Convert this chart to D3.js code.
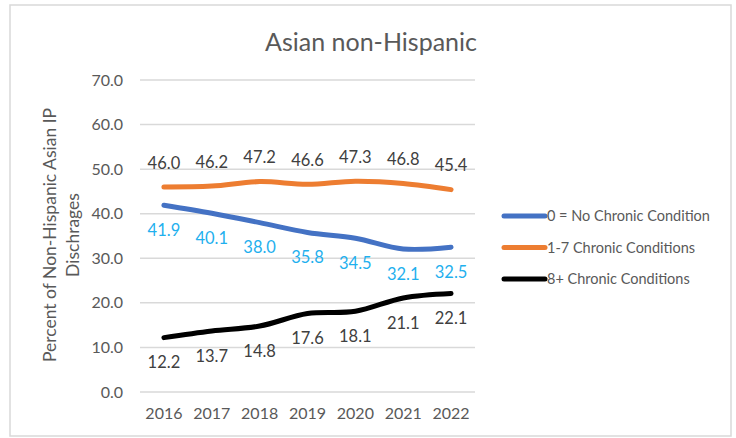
<!DOCTYPE html>
<html>
<head>
<meta charset="utf-8">
<script src="https://cdn.jsdelivr.net/npm/d3@7"></script>
<style>
  html, body { margin: 0; padding: 0; background: #fff; }
  svg { display: block; }
  text { font-family: Lato, "Noto Sans", sans-serif; fill: #595959; }
</style>
</head>
<body>
<svg id="chart" width="736" height="438"></svg>
<script>
// Share of discharges by number of chronic conditions, 2016–2022
const years = ["2016", "2017", "2018", "2019", "2020", "2021", "2022"];
const noChronic = [41.9, 40.1, 38.0, 35.8, 34.5, 32.1, 32.5];
const oneToSeven = [46.0, 46.2, 47.2, 46.6, 47.3, 46.8, 45.4];
const eightPlus = [12.2, 13.7, 14.8, 17.6, 18.1, 21.1, 22.1];
const yTicks = [0, 10, 20, 30, 40, 50, 60, 70];

const series = [
  { name: "0 = No Chronic Condition", values: noChronic, color: "#4472c4", labelColor: "#1fb0ee", labelDy: 25 },
  { name: "1-7 Chronic Conditions", values: oneToSeven, color: "#ed7d31", labelColor: "#404040", labelDy: -24 },
  { name: "8+ Chronic Conditions", values: eightPlus, color: "#000000", labelColor: "#404040", labelDy: 25 }
];

const svg = d3.select("#chart");

// outer chart frame
svg.append("rect")
  .attr("x", 10).attr("y", 5).attr("width", 721).attr("height", 431)
  .attr("fill", "#fff").attr("stroke", "#d9d9d9").attr("stroke-width", 1.5);

const plot = { left: 140, right: 475, top: 80, bottom: 392 };

const x = d3.scaleBand().domain(years).range([plot.left, plot.right]);
const y = d3.scaleLinear().domain([0, 70]).range([plot.bottom, plot.top]);

// horizontal gridlines
svg.append("g")
  .selectAll("line")
  .data(yTicks)
  .join("line")
  .attr("x1", plot.left).attr("x2", plot.right)
  .attr("y1", d => y(d)).attr("y2", d => y(d))
  .attr("stroke", "#d9d9d9").attr("stroke-width", 1.5);

// y axis tick labels
const yAxis = d3.axisLeft(y).tickValues(yTicks).tickFormat(d3.format(".1f")).tickSize(0).tickPadding(17);
const gy = svg.append("g").attr("transform", `translate(${plot.left},0)`).call(yAxis);
gy.select(".domain").remove();
gy.selectAll("text").attr("font-size", 16).attr("fill", "#595959")
  .style("font-family", "Lato, 'Noto Sans', sans-serif");

// x axis category labels
const xAxis = d3.axisBottom(x).tickSize(0).tickPadding(16);
const gx = svg.append("g").attr("transform", `translate(0,${plot.bottom})`).call(xAxis);
gx.select(".domain").remove();
gx.selectAll("text").attr("font-size", 16).attr("fill", "#595959")
  .style("font-family", "Lato, 'Noto Sans', sans-serif");

// title
svg.append("text")
  .attr("x", 371).attr("y", 51)
  .attr("text-anchor", "middle")
  .attr("font-size", 25)
  .text("Asian non-Hispanic");

// y axis title (two lines)
const yTitle = svg.append("text")
  .attr("transform", "translate(56,235) rotate(-90)")
  .attr("text-anchor", "middle")
  .attr("font-size", 17.5);
yTitle.append("tspan").attr("x", 0).attr("dy", 0).text("Percent of Non-Hispanic Asian IP");
yTitle.append("tspan").attr("x", 0).attr("dy", 23).text("Dischrages");

const cx = d => x(d) + x.bandwidth() / 2;
const line = d3.line()
  .x((v, i) => cx(years[i]))
  .y(v => y(v))
  .curve(d3.curveCatmullRom.alpha(0.5));

// series lines
svg.append("g")
  .selectAll("path")
  .data(series)
  .join("path")
  .attr("d", s => line(s.values))
  .attr("fill", "none")
  .attr("stroke", s => s.color)
  .attr("stroke-width", 5)
  .attr("stroke-linecap", "round")
  .attr("stroke-linejoin", "round");

// data labels
series.forEach(s => {
  svg.append("g")
    .selectAll("text")
    .data(s.values)
    .join("text")
    .attr("x", (v, i) => cx(years[i]))
    .attr("y", v => y(v) + s.labelDy)
    .attr("dy", "0.35em")
    .attr("text-anchor", "middle")
    .attr("font-size", 16.5)
    .style("fill", s.labelColor)
    .text(v => d3.format(".1f")(v));
});

// legend
const legend = svg.append("g")
  .selectAll("g")
  .data(series)
  .join("g")
  .attr("transform", (s, i) => `translate(504,${216 + i * 31.5})`);
legend.append("line")
  .attr("x1", 0).attr("x2", 41).attr("y1", 0).attr("y2", 0)
  .attr("stroke", s => s.color).attr("stroke-width", 5)
  .attr("stroke-linecap", "round");
legend.append("text")
  .attr("x", 43).attr("y", 0).attr("dy", "0.35em")
  .attr("font-size", 14.5)
  .text(s => s.name);
</script>
</body>
</html>
